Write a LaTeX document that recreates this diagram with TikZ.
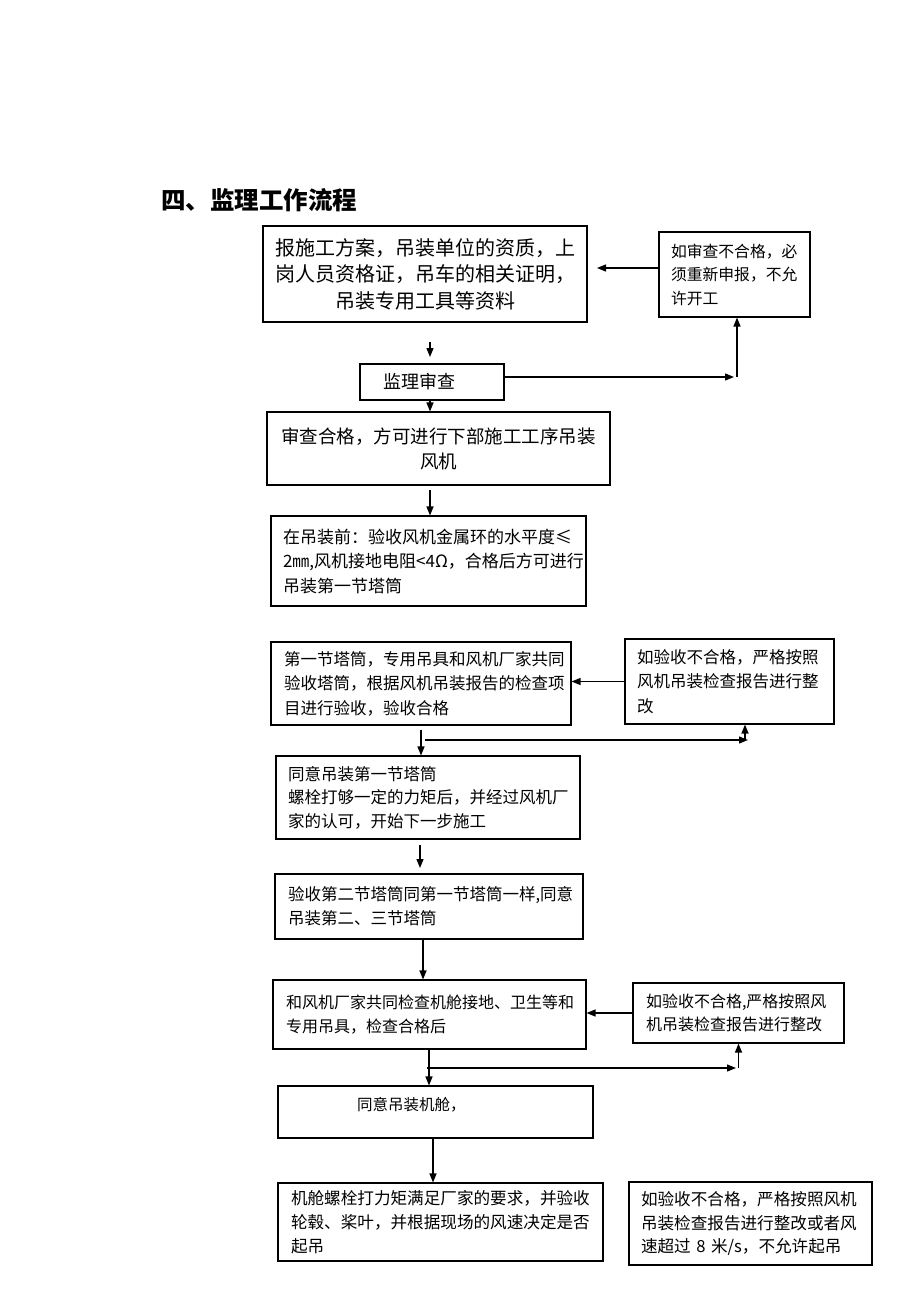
\documentclass[tikz,border=0pt]{standalone}
\usepackage{fontspec}
\setmainfont{Noto Sans CJK SC}
\usetikzlibrary{arrows.meta}
\begin{document}
\begin{tikzpicture}[x=1pt,y=-1pt,
  box/.style={draw, line width=1.1pt, inner ysep=0pt, align=left},
  cbox/.style={draw, line width=1.1pt, inner ysep=0pt, align=center},
  arr/.style={line width=1.3pt, -{Triangle[length=9pt,width=7pt]}}]
\useasboundingbox (0,0) rectangle (920,1302);
\fill[white] (0,0) rectangle (920,1302);

\node[anchor=west, inner sep=0pt, font=\fontsize{24.5pt}{28pt}\selectfont\bfseries] (title) at (161,200) {四、监理工作流程};

% main column
\node[cbox, minimum width=324pt, minimum height=96pt, inner xsep=7pt, text width=310pt,
  font=\fontsize{20pt}{26.5pt}\selectfont] (b1) at (425,274)
  {报施工方案，吊装单位的资质，上\\岗人员资格证，吊车的相关证明，\\吊装专用工具等资料};

\node[box, minimum width=144pt, minimum height=36pt, inner xsep=23pt, text width=98pt,
  font=\fontsize{18pt}{22pt}\selectfont] (jl) at (432,382) {监理审查};

\node[cbox, minimum width=343pt, minimum height=73pt, inner xsep=8pt, text width=327pt,
  font=\fontsize{18.5pt}{25pt}\selectfont] (b2) at (438.5,448.5)
  {审查合格，方可进行下部施工工序吊装\\风机};

\node[box, minimum width=315pt, minimum height=90pt, inner xsep=12pt, text width=291pt,
  font=\fontsize{17pt}{24.5pt}\selectfont] (b3) at (428.5,561)
  {在吊装前：验收风机金属环的水平度≤\\2㎜,风机接地电阻<4Ω，合格后方可进行\\吊装第一节塔筒};

\node[box, minimum width=300pt, minimum height=83pt, inner xsep=13pt, text width=274pt,
  font=\fontsize{16.5pt}{24.5pt}\selectfont] (b4) at (421,683.5)
  {第一节塔筒，专用吊具和风机厂家共同\\验收塔筒，根据风机吊装报告的检查项\\目进行验收，验收合格};

\node[box, minimum width=304pt, minimum height=83pt, inner xsep=12pt, text width=280pt,
  font=\fontsize{16.5pt}{23.5pt}\selectfont] (b5) at (428,797.5)
  {同意吊装第一节塔筒\\螺栓打够一定的力矩后，并经过风机厂\\家的认可，开始下一步施工};

\node[box, minimum width=308pt, minimum height=65pt, inner xsep=13pt, text width=282pt,
  font=\fontsize{16.5pt}{24pt}\selectfont] (b6) at (429,906.5)
  {验收第二节塔筒同第一节塔筒一样,同意\\吊装第二、三节塔筒};

\node[box, minimum width=313pt, minimum height=69pt, inner xsep=13pt, text width=287pt,
  font=\fontsize{16pt}{24pt}\selectfont] (b7) at (429.5,1014.5)
  {和风机厂家共同检查机舱接地、卫生等和\\专用吊具，检查合格后};

\node[box, minimum width=315pt, minimum height=52pt, inner xsep=79pt, text width=157pt,
  text depth=16pt, font=\fontsize{15.5pt}{20pt}\selectfont] (b8) at (435.5,1112)
  {同意吊装机舱，};

\node[box, minimum width=325pt, minimum height=78pt, inner xsep=13pt, text width=299pt,
  font=\fontsize{16.6pt}{24.2pt}\selectfont] (b9) at (440.5,1222)
  {机舱螺栓打力矩满足厂家的要求，并验收\\轮毂、桨叶，并根据现场的风速决定是否\\起吊};

% right column
\node[box, minimum width=151pt, minimum height=85pt, inner xsep=12pt, text width=127pt,
  font=\fontsize{15.8pt}{23.5pt}\selectfont] (r1) at (734.5,274.5)
  {如审查不合格，必\\须重新申报，不允\\许开工};

\node[box, minimum width=209pt, minimum height=85pt, inner xsep=12pt, text width=185pt,
  font=\fontsize{16.5pt}{24.5pt}\selectfont] (r2) at (729.5,681.5)
  {如验收不合格，严格按照\\风机吊装检查报告进行整\\改};

\node[box, minimum width=211pt, minimum height=60pt, inner xsep=13pt, text width=185pt,
  font=\fontsize{16pt}{23.5pt}\selectfont] (r3) at (738.5,1013)
  {如验收不合格,严格按照风\\机吊装检查报告进行整改};

\node[box, minimum width=243pt, minimum height=83pt, inner xsep=12pt, text width=219pt,
  font=\fontsize{16.6pt}{23.5pt}\selectfont] (r4) at (750.5,1223.5)
  {如验收不合格，严格按照风机\\吊装检查报告进行整改或者风\\速超过 8 米/s，不允许起吊};

% connectors
\coordinate (a1) at (597,268);
\draw[arr] (r1.west |- a1) -- (a1);

\coordinate (s1) at (430,342);
\coordinate (s2) at (430,357);
\draw[arr] (s1) -- (s2);

\coordinate (k1) at (734,377);
\coordinate (k2) at (737,377);
\draw[arr] (jl.east |- k1) -- (k1);
\draw[arr] (k2) -- (k2 |- r1.south);

\coordinate (s3) at (430,400);
\draw[arr] (s3) -- (s3 |- b2.north);

\coordinate (s4) at (430,490);
\draw[arr] (s4) -- (s4 |- b3.north);

\draw[arr] (r2.west) -- (b4.east |- r2.west);

\coordinate (s5) at (421,730);
\draw[arr] (s5) -- (s5 |- b5.north);
\coordinate (h1) at (425,740);
\coordinate (h2) at (748,740);
\coordinate (h3) at (745,740);
\draw[arr] (h1) -- (h2);
\draw[arr] (h3) -- (h3 |- r2.south);

\coordinate (s6) at (420,845);
\coordinate (s7) at (420,868);
\draw[arr] (s6) -- (s7);

\coordinate (s8) at (423,940);
\draw[arr] (s8) -- (s8 |- b7.north);

\draw[arr] (r3.west) -- (b7.east |- r3.west);

\coordinate (s9) at (429,1049);
\draw[arr] (s9) -- (s9 |- b8.north);
\coordinate (h4) at (427,1068);
\coordinate (h5) at (736,1068);
\coordinate (h6) at (738.5,1068);
\draw[arr] (h4) -- (h5);
\draw[arr] (h6) -- (h6 |- r3.south);

\coordinate (s10) at (433,1138);
\draw[arr] (s10) -- (s10 |- b9.north);
\end{tikzpicture}
\end{document}
